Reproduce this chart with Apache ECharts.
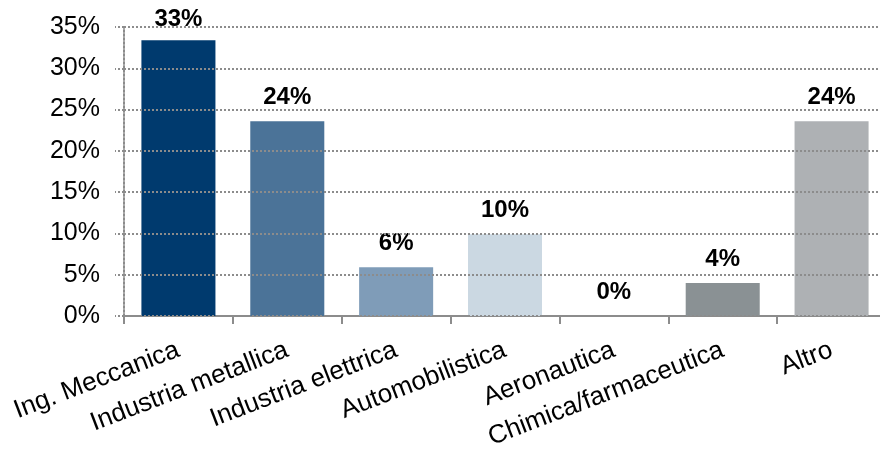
<!DOCTYPE html>
<html>
<head>
<meta charset="utf-8">
<script src="https://cdn.jsdelivr.net/npm/echarts@6/dist/echarts.min.js"></script>
<style>
html, body { margin:0; padding:0; background:#fff; }
#chart { width:880px; height:453px; }
</style>
</head>
<body>
<div id="chart"></div>
<script>
var categories = ['Ing. Meccanica','Industria metallica','Industria elettrica','Automobilistica','Aeronautica','Chimica/farmaceutica','Altro'];
var values = [33.4, 23.6, 5.9, 9.9, 0, 4.0, 23.6];
var barLabels = ['33%','24%','6%','10%','0%','4%','24%'];
var barColors = ['#003a6e','#4b7398','#7f9cb8','#cbd8e2','#ffffff','#8a9194','#aeb1b4'];
var yTicks = {min:0, max:35, interval:5};

var FONT = '"Liberation Sans", Arial, sans-serif';

var option = {
	backgroundColor:'#fff',
	animation:false,
	grid: {left:124, top:27, width:762, height:289, outerBoundsMode:'none', containLabel:false},
	xAxis: {
		type:'category',
		data:categories,
		axisLine: {lineStyle:{color:'#8c8c8c', width:2}},
		axisTick: {show:true, length:8, lineStyle:{color:'#8c8c8c', width:2}},
		axisLabel: {
			rotate:21,
			margin:33,
			interval:0,
			color:'#000',
			fontFamily:FONT,
			fontSize:26
		}
	},
	yAxis: {
		type:'value',
		min:yTicks.min,
		max:yTicks.max,
		interval:yTicks.interval,
		z:3,
		axisLine: {show:true, lineStyle:{color:'#8c8c8c', width:2, type:[2,2]}},
		axisTick: {show:true, length:9, lineStyle:{color:'#8c8c8c', width:2, type:[2,2]}},
		splitLine: {show:true, lineStyle:{color:'#8c8c8c', width:2, type:[2,2]}},
		axisLabel: {
			margin:24,
			color:'#000',
			fontFamily:FONT,
			fontSize:25,
			formatter:'{value}%'
		}
	},
	series: [{
		type:'bar',
		barCategoryGap:'32%',
		data: values.map(function(v, i){
			return {
				value:v,
				itemStyle:{color:barColors[i]},
				label:{distance: i === 0 ? 9 : 12}
			};
		}),
		label: {
			show:true,
			position:'top',
			color:'#000',
			fontFamily:FONT,
			fontSize:24,
			fontWeight:'bold',
			formatter:function(p){ return barLabels[p.dataIndex]; }
		}
	}]
};

echarts.init(document.getElementById('chart')).setOption(option);
</script>
</body>
</html>
